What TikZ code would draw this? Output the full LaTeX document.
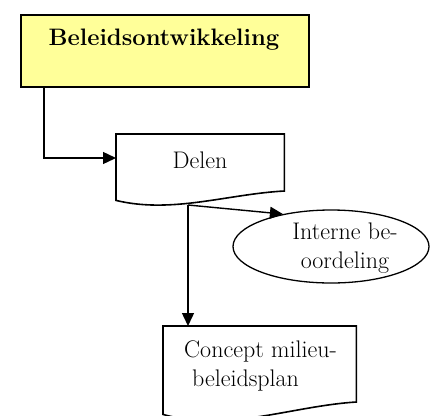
\documentclass[tikz,border=0pt]{standalone}
\usetikzlibrary{arrows.meta,shapes.geometric,calc}
\definecolor{boxyellow}{RGB}{255,255,153}
\tikzset{
  boxline/.style={draw=black, line width=1.6pt},
  conn/.style={draw=black, line width=1.4pt, -{Triangle[length=13pt,width=12pt]}},
  lbl/.style={font=\fontsize{24}{29}\selectfont, inner sep=0pt},
  area/.style={inner sep=0pt, anchor=north west},
}
\begin{document}
\begin{tikzpicture}[x=1pt,y=-1pt]
\useasboundingbox (0,0) rectangle (435,415);
\clip (0,0) rectangle (435,415);
% Beleidsontwikkeling
\node[boxline, fill=boxyellow, area, minimum width=288pt, minimum height=72pt] (bel) at (20,14) {};
\node[lbl, font=\fontsize{23.8}{29}\selectfont\bfseries] (beltext) at (164,40) {Beleidsontwikkeling};
% Delen (document shape)
\node[area, minimum width=168pt, minimum height=66pt] (delen) at (116,134) {};
\draw[boxline, line join=miter] (delen.south west) -- (delen.north west) -- (delen.north east)
  -- ($(delen.north east)+(0,57)$)
  .. controls ($(delen.north west)+(112,60)$) and ($(delen.north west)+(56,80)$) .. (delen.south west) -- cycle;
\node[lbl] (delentext) at (200,160) {Delen};
% Interne beoordeling
\node[draw=black, line width=1.3pt, ellipse, inner sep=0pt, minimum width=196pt, minimum height=73pt] (int) at (331,246.5) {};
\node[lbl, align=center] (inttext) at (345,248) {Interne be-\\oordeling};
% Concept milieubeleidsplan (document shape)
\node[area, minimum width=193pt, minimum height=88pt] (concept) at (163,326) {};
\draw[boxline, line join=miter] (concept.south west) -- (concept.north west) -- (concept.north east)
  -- ($(concept.north east)+(0,76)$)
  .. controls ($(concept.north west)+(128.7,80)$) and ($(concept.north west)+(64.3,106.7)$) .. (concept.south west) -- cycle;
\node[lbl, align=left, anchor=west] (concepttext) at (184,366) {Concept milieu-\\\hspace*{8pt}beleidsplan};
% connectors
\coordinate (split) at (188,205);
\draw[conn] ($(bel.south west)+(24,0)$) |- ($(delen.north west)+(0,24)$);
\draw[conn] (split) -- (int.146);
\draw[conn] (split) -- (split |- concept.north);
\end{tikzpicture}
\end{document}
